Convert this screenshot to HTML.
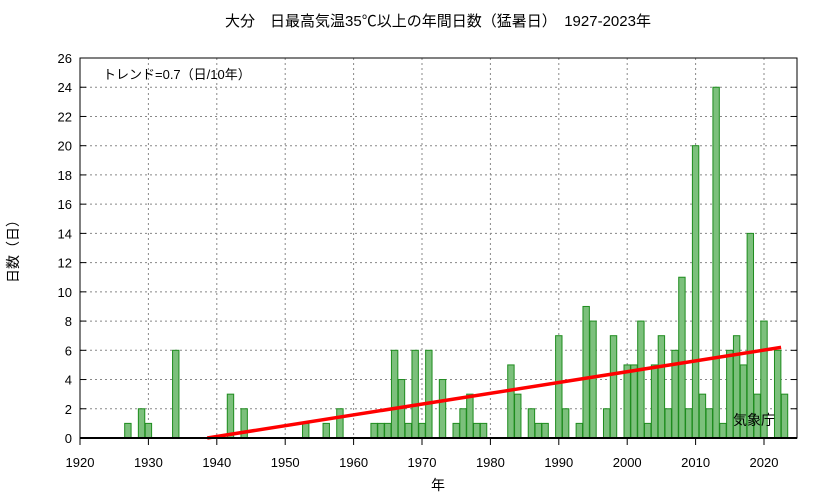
<!DOCTYPE html>
<html><head><meta charset="utf-8"><style>
body{margin:0;background:#fff}
svg text{font-family:"Liberation Sans","Noto Sans CJK JP",sans-serif;fill:#000}
</style></head><body>
<svg width="833" height="498" xmlns="http://www.w3.org/2000/svg">
<g id="grid"></g>
<g id="bars"></g>
<g id="trend"></g>
<g id="axes"></g>
<text x="438" y="26" font-size="15" text-anchor="middle">大分　日最高気温35℃以上の年間日数（猛暑日）　1927-2023年</text>
<text x="103" y="79" font-size="13">トレンド=0.7（日/10年）</text>
<text x="733" y="425" font-size="14">気象庁</text>
<text x="438" y="490" font-size="14" text-anchor="middle">年</text>
<text transform="translate(18,248) rotate(-90)" font-size="14" text-anchor="middle">日数（日）</text>
</svg>
<script>
const years=[1927,1929,1930,1934,1942,1944,1953,1956,1958,1963,1964,1965,1966,1967,1968,1969,1970,1971,1973,1975,1976,1977,1978,1979,1983,1984,1986,1987,1988,1990,1991,1993,1994,1995,1997,1998,2000,2001,2002,2003,2004,2005,2006,2007,2008,2009,2010,2011,2012,2013,2014,2015,2016,2017,2018,2019,2020,2022,2023];
const days=[1,2,1,6,3,2,1,1,2,1,1,1,6,4,1,6,1,6,4,1,2,3,1,1,5,3,2,1,1,7,2,1,9,8,2,7,5,5,8,1,5,7,2,6,11,2,20,3,2,24,1,6,7,5,14,3,8,6,3];
const xTicks=[1920,1930,1940,1950,1960,1970,1980,1990,2000,2010,2020];
const yTicks=[0,2,4,6,8,10,12,14,16,18,20,22,24,26];
const trendStart=[1938.6,0.0];
const trendEnd=[2022.5,6.2];
const NS='http://www.w3.org/2000/svg';
const L=80,R=797,T=58,B=438;
const xs=y=>L+(y-1920)*6.84;
const ys=v=>B-(v/26)*(B-T);
function mk(tag,attrs,parent){const e=document.createElementNS(NS,tag);for(const k in attrs)e.setAttribute(k,attrs[k]);parent.appendChild(e);return e;}
const grid=document.getElementById('grid'),bars=document.getElementById('bars'),axes=document.getElementById('axes'),trend=document.getElementById('trend');
yTicks.forEach(v=>{
 if(v>0&&v<26){const g=mk('line',{x1:L,x2:R,y1:ys(v),y2:ys(v),stroke:'#888','stroke-dasharray':'2,3','stroke-width':1},grid);
 
 }
 const t=mk('text',{x:L-8,y:ys(v)+5,'font-size':13,'text-anchor':'end'},axes);t.textContent=v;
 
 
 const tk=mk('line',{x1:L,x2:L+6,y1:ys(v),y2:ys(v),stroke:'#000'},axes);
 
 
 const tk2=mk('line',{x1:R-6,x2:R,y1:ys(v),y2:ys(v),stroke:'#000'},axes);
 
 
});
xTicks.forEach(y=>{
 const x=xs(y);
 if(y>1920){const g=mk('line',{x1:x,x2:x,y1:T,y2:B,stroke:'#888','stroke-dasharray':'2,3','stroke-width':1},grid);
 
 }
 const t=mk('text',{x:x,y:B+29,'font-size':13,'text-anchor':'middle'},axes);t.textContent=y;
 
 
 const tk=mk('line',{x1:x,x2:x,y1:B,y2:B+7,stroke:'#000'},axes);
 
 
});
years.forEach((y,i)=>{
 const x=xs(y),top=ys(days[i]);
 const r=mk('rect',{x:x-3.2,y:top,width:6.4,height:B-top,fill:'#7cc07c',stroke:'#1e8c1e','stroke-width':1},bars);
 
 
});
const tl=mk('line',{x1:xs(trendStart[0]),y1:ys(trendStart[1]),x2:xs(trendEnd[0]),y2:ys(trendEnd[1]),stroke:'#ff0000','stroke-width':3.5},trend);


const frame=mk('rect',{x:L,y:T,width:R-L,height:B-T,fill:'none',stroke:'#000','stroke-width':1},axes);


const base=mk('line',{x1:L,x2:R,y1:B,y2:B,stroke:'#000','stroke-width':2},axes);


</script>
</body></html>
